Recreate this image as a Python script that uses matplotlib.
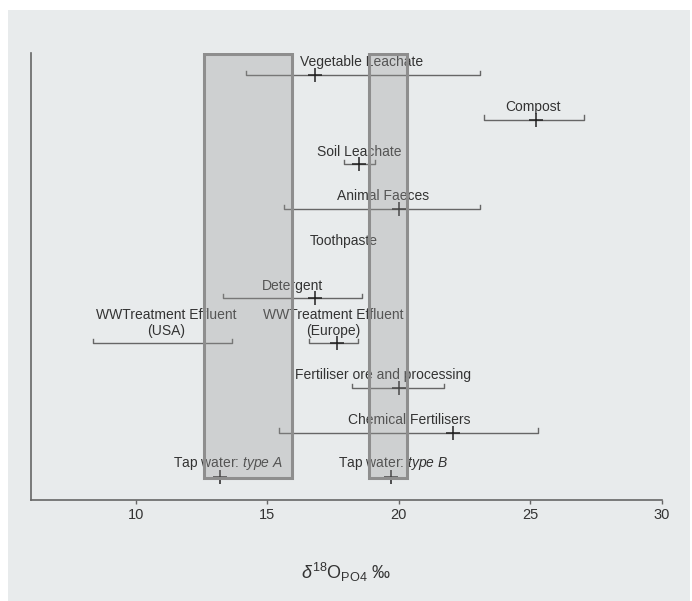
import numpy as np
import matplotlib
matplotlib.use("Agg")
import matplotlib.pyplot as plt
from matplotlib.patches import Rectangle

plt.rcParams.update({"font.family": ["Liberation Sans", "DejaVu Sans"], "font.size": 10,
                     "mathtext.fontset": "custom", "mathtext.rm": "Liberation Sans",
                     "mathtext.it": "Liberation Sans:italic"})

# ---------------------------------------------------------------- data
sources = ["Vegetable Leachate", "Compost", "Soil Leachate", "Animal Faeces", "Toothpaste",
           "Detergent", "WWTreatment Effluent\n(USA)", "WWTreatment Effluent\n(Europe)",
           "Fertiliser ore and processing", "Chemical Fertilisers",
           "Tap water: $\\it{type\\ A}$", "Tap water: $\\it{type\\ B}$"]
row = [0, 1, 2, 3, 4, 5, 6, 6, 7, 8, 9, 9]
lo = [14.2, 23.25, 17.9, 15.65, np.nan, 13.3, 8.35, 16.6, 18.2, 15.45, np.nan, np.nan]
hi = [23.1, 27.05, 19.1, 23.1, np.nan, 18.6, 13.65, 18.45, 21.7, 25.3, np.nan, np.nan]
mean = [16.8, 25.2, 18.5, 20.0, np.nan, 16.8, np.nan, 17.65, 20.0, 22.05, 13.2, 19.7]
label_x = [18.6, 25.1, 18.5, 19.4, 17.9, 15.95, 11.15, 17.5, 19.4, 20.4, 13.5, 19.8]

tap_a = (12.6, 15.95)
tap_b = (18.85, 20.3)

# ---------------------------------------------------------------- figure
fig = plt.figure(figsize=(6.92, 6.01), dpi=100)
fig.patches.append(Rectangle((8 / 692, 0), 682 / 692, 591 / 601, transform=fig.transFigure,
                             facecolor="#e8ebec", edgecolor="none", zorder=-10))
ax = fig.add_axes([0.0444, 0.168, 0.912, 0.744])
ax.set_facecolor("none")

grey = "#666666"
cap = 0.09
for r, a, b in zip(row, lo, hi):
    if np.isnan(a):
        continue
    ax.plot([a, a, b, b], [r - cap, r, r, r - cap], color=grey, lw=1.0, zorder=2)

ax.plot(mean, row, "+", color="#222222", ms=10, mew=1.1, ls="none", zorder=3)

for name, r, lx in zip(sources, row, label_x):
    ax.annotate(name, (lx, r), xytext=(0, 4), textcoords="offset points",
                ha="center", va="bottom", color="#333333", fontsize=10, linespacing=1.15, zorder=3)

for (a, b) in (tap_a, tap_b):
    ax.add_patch(Rectangle((a, -0.47), b - a, 9.49, facecolor="#9a9a9a", alpha=0.33,
                           edgecolor="none", zorder=4))
    ax.add_patch(Rectangle((a, -0.47), b - a, 9.49, facecolor="none", edgecolor="#8e8e8e",
                           lw=2.2, zorder=5))

ax.set_xlim(6, 30)
ax.set_ylim(9.51, -0.49)
ax.set_yticks([])
ax.set_xticks([10, 15, 20, 25, 30])
ax.tick_params(axis="x", length=3, width=1, color=grey, labelsize=10.5, labelcolor="#333333", pad=3)
for s in ("top", "right"):
    ax.spines[s].set_visible(False)
for s in ("left", "bottom"):
    ax.spines[s].set_color(grey)
    ax.spines[s].set_linewidth(1.2)
ax.set_xlabel(r"$\delta^{18}\mathrm{O}_{\mathrm{PO4}}$ ‰", fontsize=13, color="#333333", labelpad=28)

fig.savefig("out.png", dpi=100)
